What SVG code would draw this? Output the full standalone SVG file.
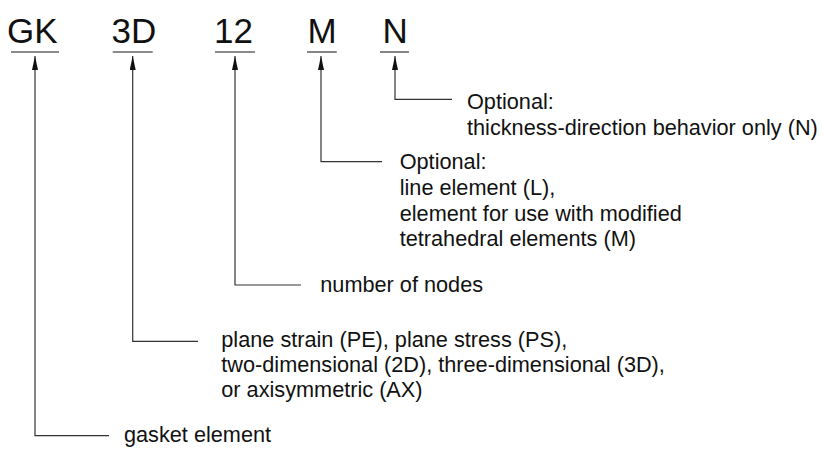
<svg xmlns="http://www.w3.org/2000/svg" width="823" height="454" viewBox="0 0 823 454">
<style>
.code{font-family:"Liberation Sans",Arial,Helvetica,sans-serif;font-size:35px;fill:#111}
.lbl{font-family:"Liberation Sans",Arial,Helvetica,sans-serif;font-size:21.7px;fill:#111}
.ul{stroke:#666;stroke-width:1.6;fill:none}
.con{stroke:#333;stroke-width:1.2;fill:none;marker-start:url(#arr)}
</style>
<defs>
<marker id="arr" viewBox="0 0 14 6" refX="14" refY="3" markerWidth="14" markerHeight="6" markerUnits="userSpaceOnUse" orient="auto-start-reverse">
<path d="M0,0 L14,3 L0,6 z" fill="#111"/>
</marker>
</defs>
<rect width="823" height="454" fill="#fff"/>
<g id="node-GK">
<text class="code" x="7" y="43">GK</text>
<line class="ul" x1="11" y1="52" x2="59" y2="52"/>
</g>
<g id="node-3D">
<text class="code" x="111.5" y="43">3D</text>
<line class="ul" x1="112.7" y1="52" x2="152.7" y2="52"/>
</g>
<g id="node-12">
<text class="code" x="214" y="43">12</text>
<line class="ul" x1="215" y1="52" x2="255" y2="52"/>
</g>
<g id="node-M">
<text class="code" x="307.5" y="43">M</text>
<line class="ul" x1="307" y1="52" x2="336.7" y2="52"/>
</g>
<g id="node-N">
<text class="code" x="382.5" y="43">N</text>
<line class="ul" x1="380" y1="52" x2="409" y2="52"/>
</g>
<g id="connectors">
<path class="con" d="M35,56 V435.7 H109"/>
<path class="con" d="M132.7,56 V341.3 H198"/>
<path class="con" d="M235,56 V285 H301"/>
<path class="con" d="M321,56 V161.7 H382"/>
<path class="con" d="M395,56 V99.3 H452"/>
</g>
<g id="label-N">
<text class="lbl" x="467" y="109">Optional:</text>
<text class="lbl" x="467" y="135">thickness-direction behavior only (N)</text>
</g>
<g id="label-M">
<text class="lbl" x="399.7" y="169.3">Optional:</text>
<text class="lbl" x="399.7" y="195">line element (L),</text>
<text class="lbl" x="399.7" y="220.6">element for use with modified</text>
<text class="lbl" x="399.7" y="246.3">tetrahedral elements (M)</text>
</g>
<g id="label-12">
<text class="lbl" x="320.3" y="291.7">number of nodes</text>
</g>
<g id="label-3D">
<text class="lbl" x="221.3" y="346.7">plane strain (PE), plane stress (PS),</text>
<text class="lbl" x="221.3" y="371.9">two-dimensional (2D), three-dimensional (3D),</text>
<text class="lbl" x="221.3" y="397">or axisymmetric (AX)</text>
</g>
<g id="label-GK">
<text class="lbl" x="124" y="442">gasket element</text>
</g>
</svg>
